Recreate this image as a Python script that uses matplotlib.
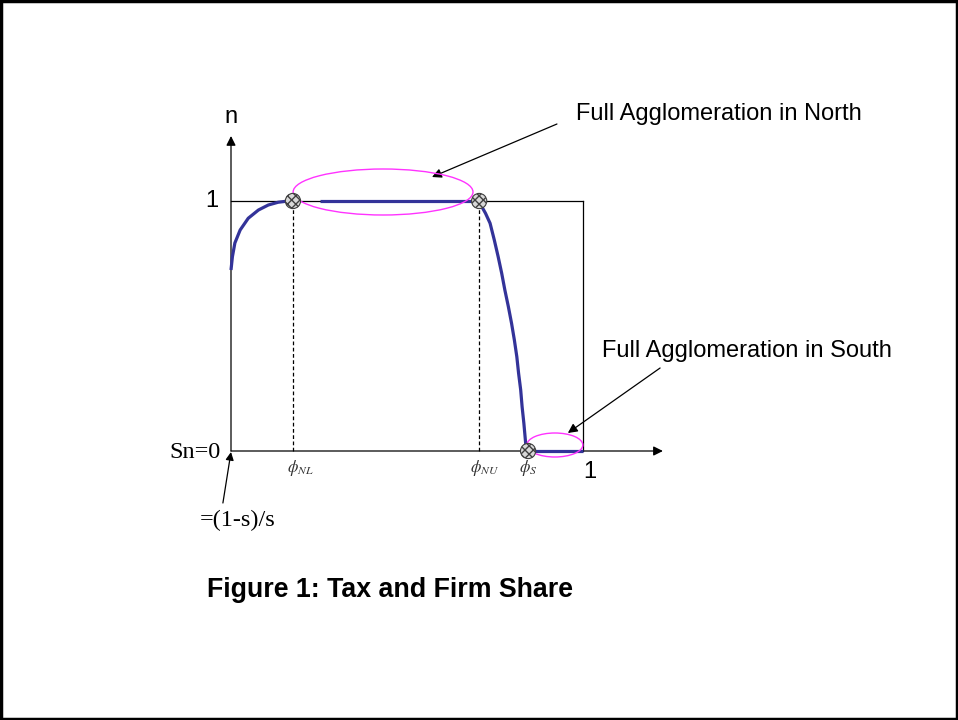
import matplotlib.pyplot as plt
from matplotlib.patches import Ellipse, Rectangle

plt.rcParams["mathtext.fontset"] = "stix"

# key tax levels on the phi axis
phi_NL = 0.176
phi_NU = 0.705
phi_S = 0.844

# rising branch (left)
rise_phi = [0.0, 0.004, 0.011, 0.026, 0.049, 0.078, 0.106, 0.134, 0.163, 0.176]
rise_n = [0.724, 0.777, 0.832, 0.884, 0.931, 0.964, 0.984, 0.995, 1.0, 1.0]

# flat part at n=1 (drawn from a bit right of phi_NL)
flat_phi = [0.253, 0.705]
flat_n = [1.0, 1.0]

# falling branch
fall_phi = [0.705, 0.707, 0.723, 0.736, 0.748, 0.759, 0.769, 0.778, 0.788, 0.797,
            0.805, 0.812, 0.817, 0.823, 0.827, 0.832, 0.838, 0.844]
fall_n = [1.0, 0.991, 0.951, 0.911, 0.844, 0.777, 0.711, 0.644, 0.577, 0.511,
          0.444, 0.377, 0.311, 0.244, 0.177, 0.111, 0.017, 0.0]

# flat part at n=0
south_phi = [0.844, 1.0]
south_n = [0.0, 0.0]

CURVE = "#333399"
MAGENTA = "#ff33ff"

fig = plt.figure(figsize=(9.58, 7.2), dpi=100)
fig.patches.append(Rectangle((0.001, 0.001), 0.998, 0.997, transform=fig.transFigure,
                             fill=False, edgecolor="black", linewidth=2.5))

ax = fig.add_axes([231 / 958, (720 - 451) / 720, 352 / 958, 250 / 720])
ax.set_xlim(0, 1)
ax.set_ylim(0, 1)
ax.axis("off")

arrow = dict(arrowstyle="-|>", color="black", lw=0.9, mutation_scale=14,
             shrinkA=0, shrinkB=0)

# box: top and right edges
ax.plot([0, 1], [1, 1], color="black", lw=0.9, clip_on=False)
ax.plot([1, 1], [0, 1], color="black", lw=0.9, clip_on=False)

# axes with arrows
ax.annotate("", xy=(0, 1.26), xytext=(0, 0), arrowprops=arrow, annotation_clip=False)
ax.annotate("", xy=(1.227, 0), xytext=(0, 0), arrowprops=arrow, annotation_clip=False)

# dashed guides
for p in (phi_NL, phi_NU):
    ax.plot([p, p], [0, 1], color="black", lw=0.9, ls=(0, (3, 2)), clip_on=False)

# curve
for xs, ys in ((rise_phi, rise_n), (flat_phi, flat_n), (fall_phi, fall_n), (south_phi, south_n)):
    ax.plot(xs, ys, color=CURVE, lw=2.3, clip_on=False, solid_capstyle="butt",
            solid_joinstyle="round", zorder=3)

# ellipses
ax.add_patch(Ellipse((0.432, 1.036), 0.511, 0.184, fill=False, edgecolor=MAGENTA,
                     lw=1.0, clip_on=False, zorder=4))
ax.add_patch(Ellipse((0.920, 0.024), 0.159, 0.096, fill=False, edgecolor=MAGENTA,
                     lw=1.0, clip_on=False, zorder=4))

# hatched points
ax.scatter([phi_NL, phi_NU, phi_S], [1.0, 1.0, 0.0], s=120, facecolor="#d8d8d8",
           edgecolor="#404040", hatch="xxxx", linewidth=0.8, zorder=5, clip_on=False)

# labels
sans = "Liberation Sans"
serif = "Liberation Serif"
ax.text(0, 1.336, "n", fontsize=17, family=sans, ha="center", va="center")
ax.text(-0.054, 1.0, "1", fontsize=17, family=sans, ha="center", va="center")
ax.text(-0.03, -0.004, "Sn=0", fontsize=17.5, family=serif, ha="right", va="center")
ax.text(1.02, -0.084, "1", fontsize=17, family=sans, ha="center", va="center")
ax.text(0.018, -0.276, "=(1-s)/s", fontsize=17.5, family=serif, ha="center", va="center")
ax.annotate("", xy=(0, -0.004), xytext=(-0.023, -0.208),
            arrowprops=dict(arrow, mutation_scale=12), annotation_clip=False)

ax.text(0.196, -0.068, r"$\phi_{NL}$", fontsize=12, ha="center", va="center", color="#333333")
ax.text(0.719, -0.068, r"$\phi_{NU}$", fontsize=12, ha="center", va="center", color="#333333")
ax.text(0.844, -0.068, r"$\phi_{S}$", fontsize=12, ha="center", va="center", color="#333333")

ax.text(0.980, 1.348, "Full Agglomeration in North", fontsize=17, family=sans,
        ha="left", va="center")
ax.annotate("", xy=(0.571, 1.096), xytext=(0.926, 1.308), arrowprops=arrow,
            annotation_clip=False)
ax.text(1.054, 0.40, "Full Agglomeration in South", fontsize=17, family=sans,
        ha="left", va="center")
ax.annotate("", xy=(0.957, 0.072), xytext=(1.219, 0.332), arrowprops=arrow,
            annotation_clip=False)

ax.text(0.452, -0.556, "Figure 1: Tax and Firm Share", fontsize=19.3, fontweight="bold",
        family=sans, ha="center", va="center")

fig.savefig("out.png", dpi=100)
